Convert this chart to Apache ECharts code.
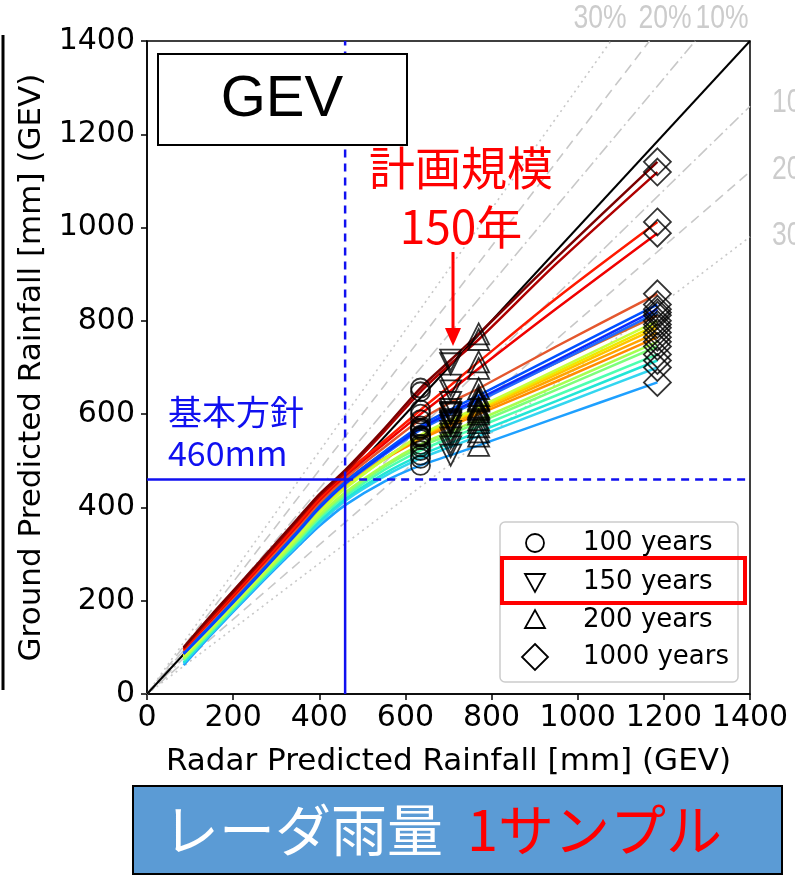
<!DOCTYPE html>
<html>
<head>
<meta charset="utf-8">
<script src="https://cdn.jsdelivr.net/npm/echarts@6/dist/echarts.min.js"></script>
<style>
  html, body { margin: 0; padding: 0; background: #fff; }
  #chart { width: 795px; height: 880px; }
</style>
</head>
<body>
<div id="chart"></div>
<script>
// radar rainfall where each curve is sampled (mm)
const radarX = [85, 150, 250, 350, 400, 460, 550, 635, 705, 770, 950, 1185]

// ground rainfall per sample curve, drawn bottom -> top
const curveColors = [
  '#1ea0ff', '#33d6f0', '#22e6d6', '#4dffb0', '#7dff7a', '#a6ff50',
  '#ff8c00', '#ffa500', '#ffc400', '#f0e800', '#c8ff3c', '#d2642a',
  '#1f6bff', '#0a2cff', '#0050ff', '#e4572e', '#f00000', '#ff1a00',
  '#b00000', '#7a0000'
]
const curveValues = [
  [62, 128, 224, 316, 360, 405, 455, 490, 512, 533, 592, 668],
  [66, 131, 227, 320, 366, 414, 466, 505, 530, 553, 617, 700],
  [68, 132, 229, 323, 370, 418, 472, 512, 538, 562, 628, 715],
  [72, 135, 232, 327, 376, 424, 480, 522, 549, 573, 640, 728],
  [74, 137, 234, 330, 380, 428, 486, 530, 557, 582, 652, 745],
  [76, 139, 236, 333, 383, 432, 490, 535, 563, 588, 660, 755],
  [90, 152, 250, 350, 402, 452, 503, 546, 575, 600, 670, 765],
  [88, 150, 248, 348, 400, 450, 505, 550, 580, 605, 678, 775],
  [84, 146, 244, 342, 394, 445, 504, 552, 583, 609, 685, 785],
  [82, 144, 242, 340, 391, 442, 503, 553, 585, 612, 690, 792],
  [80, 142, 240, 338, 389, 440, 503, 555, 588, 615, 695, 800],
  [92, 155, 252, 352, 405, 456, 517, 570, 602, 630, 710, 812],
  [86, 147, 245, 346, 398, 450, 512, 566, 600, 628, 710, 818],
  [86, 148, 246, 348, 400, 452, 515, 570, 604, 633, 715, 825],
  [88, 150, 248, 350, 403, 455, 519, 575, 610, 640, 725, 835],
  [94, 158, 256, 357, 410, 462, 528, 588, 625, 655, 745, 858],
  [95, 160, 260, 362, 415, 468, 536, 600, 650, 698, 826, 988],
  [96, 163, 264, 366, 419, 472, 542, 609, 662, 712, 848, 1012],
  [98, 166, 268, 372, 424, 475, 562, 648, 708, 760, 922, 1119],
  [100, 170, 272, 376, 428, 480, 568, 656, 716, 772, 935, 1141]
]

// return periods and which radarX point they sit on
const periodNames = ['100 years', '150 years', '200 years', '1000 years']
const periodIdx = [7, 8, 9, 11]

const ratioPct = [10, 20, 30]
const ratioDash = [[12, 4, 2, 4], [10, 6], [2, 4]]
const basicPolicy = 460
const axisMax = 1400

const chart = echarts.init(document.getElementById('chart'))
const FONT = 'DejaVu Sans'
const CJK = 'Noto Sans CJK JP'

const series = []

// +-% reference lines
ratioPct.forEach((p, i) => {
  const r = p / 100
  const style = { color: '#c8c8c8', width: 1.6, type: ratioDash[i] }
  series.push({ type: 'line', silent: true, symbol: 'none', z: 1, lineStyle: style,
    data: [[0, 0], [axisMax / (1 + r), axisMax]] })
  series.push({ type: 'line', silent: true, symbol: 'none', z: 1, lineStyle: style,
    data: [[0, 0], [axisMax, axisMax * (1 - r)]] })
})
series.push({ type: 'line', silent: true, symbol: 'none', z: 2,
  lineStyle: { color: '#000', width: 2 }, data: [[0, 0], [axisMax, axisMax]] })

curveValues.forEach((vals, i) => {
  series.push({
    type: 'line', silent: true, symbol: 'none', smooth: 0.3, z: 3,
    lineStyle: { color: curveColors[i], width: 2.5 },
    data: radarX.map((x, j) => [x, vals[j]])
  })
})

// 基本方針 460mm lines
const blue = '#1010f0'
series.push({ type: 'line', silent: true, symbol: 'none', z: 4, lineStyle: { color: blue, width: 2.5 },
  data: [[basicPolicy, 0], [basicPolicy, basicPolicy]] })
series.push({ type: 'line', silent: true, symbol: 'none', z: 4, lineStyle: { color: blue, width: 2.5, type: [8, 6] },
  data: [[basicPolicy, basicPolicy], [basicPolicy, axisMax]] })
series.push({ type: 'line', silent: true, symbol: 'none', z: 4, lineStyle: { color: blue, width: 2.5 },
  data: [[0, basicPolicy], [basicPolicy, basicPolicy]] })
series.push({ type: 'line', silent: true, symbol: 'none', z: 4, lineStyle: { color: blue, width: 2.5, type: [8, 6] },
  data: [[basicPolicy, basicPolicy], [axisMax, basicPolicy]] })

const markerDefs = [
  { symbol: 'circle', size: 19, rotate: 0 },
  { symbol: 'triangle', size: 21, rotate: 180 },
  { symbol: 'triangle', size: 21, rotate: 0 },
  { symbol: 'diamond', size: 27, rotate: 0 }
]
periodIdx.forEach((idx, k) => {
  series.push({
    type: 'scatter', name: periodNames[k], silent: true, z: 5,
    symbol: markerDefs[k].symbol, symbolSize: markerDefs[k].size, symbolRotate: markerDefs[k].rotate,
    itemStyle: { color: 'rgba(255,255,255,0)', borderColor: '#000', borderWidth: 1.8 },
    data: curveValues.map(v => [radarX[idx], v[idx]])
  })
})

const gray = '#cccccc'
const txt = (text, x, y, size, fill, family, align) => ({
  type: 'text', z: 100, style: { text, x, y, fill, fontSize: size, fontFamily: family || FONT,
    textAlign: align || 'center', textVerticalAlign: 'middle' }
})
// narrow grey percentage labels
const pct = (text, x, y, align) => ({
  type: 'text', z: 100, x, y, scaleX: 0.78,
  style: { text, x: 0, y: 0, fill: gray, fontSize: 34, fontFamily: 'Liberation Sans',
    textAlign: align || 'center', textVerticalAlign: 'middle' }
})

const legendRows = [543, 582, 620, 657]
const graphic = [
  { type: 'line', z: 100, shape: { x1: 3, y1: 35, x2: 3, y2: 690 }, style: { stroke: '#000', lineWidth: 3 } },
  { type: 'rect', z: 100, shape: { x: 158, y: 54, width: 249, height: 91 }, style: { fill: '#fff', stroke: '#000', lineWidth: 2 } },
  txt('GEV', 282, 100, 58, '#000', 'Liberation Sans'),
  txt('計画規模', 461, 168, 46, '#ff0000', CJK),
  txt('150年', 461, 227, 46, '#ff0000', CJK),
  { type: 'line', z: 100, shape: { x1: 453, y1: 252, x2: 453, y2: 332 }, style: { stroke: '#ff0000', lineWidth: 3 } },
  { type: 'polygon', z: 100, shape: { points: [[445, 328], [461, 328], [453, 346]] }, style: { fill: '#ff0000' } },
  txt('基本方針', 168, 412, 34, blue, CJK, 'left'),
  txt('460mm', 168, 453, 34, blue, CJK, 'left'),
  pct('30%', 600, 19),
  pct('20%', 665, 19),
  pct('10%', 722, 19),
  pct('10%', 772, 103, 'left'),
  pct('20%', 772, 170, 'left'),
  pct('30%', 772, 236, 'left'),
  // legend
  { type: 'rect', z: 100, shape: { x: 500, y: 522, width: 238, height: 160, r: 5 }, style: { fill: '#fff', stroke: '#cccccc', lineWidth: 1.5 } },
  { type: 'circle', z: 101, shape: { cx: 535, cy: legendRows[0], r: 9 }, style: { fill: 'none', stroke: '#000', lineWidth: 1.8 } },
  { type: 'polygon', z: 101, shape: { points: [[525, legendRows[1] - 8], [545, legendRows[1] - 8], [535, legendRows[1] + 10]] }, style: { fill: 'none', stroke: '#000', lineWidth: 1.8 } },
  { type: 'polygon', z: 101, shape: { points: [[525, legendRows[2] + 8], [545, legendRows[2] + 8], [535, legendRows[2] - 10]] }, style: { fill: 'none', stroke: '#000', lineWidth: 1.8 } },
  { type: 'polygon', z: 101, shape: { points: [[535, legendRows[3] - 13], [548, legendRows[3]], [535, legendRows[3] + 13], [522, legendRows[3]]] }, style: { fill: 'none', stroke: '#000', lineWidth: 1.8 } },
  ...periodNames.map((n, k) => txt(n, 583, legendRows[k], 26, '#000', FONT, 'left')),
  { type: 'rect', z: 102, shape: { x: 502, y: 558, width: 243, height: 45 }, style: { fill: 'none', stroke: '#ff0000', lineWidth: 4 } },
  // bottom caption
  { type: 'rect', z: 100, shape: { x: 133, y: 786, width: 649, height: 88 }, style: { fill: '#5b9bd5', stroke: '#000', lineWidth: 2 } },
  txt('レーダ雨量', 163, 830, 56, '#fff', CJK, 'left'),
  txt('1サンプル', 467, 830, 56, '#ff0000', CJK, 'left')
]

const axisCommon = {
  type: 'value', min: 0, max: axisMax, interval: 200,
  axisLine: { show: true, lineStyle: { color: '#000', width: 1.5 } },
  axisTick: { show: true, inside: false, length: 6, lineStyle: { color: '#000', width: 1.5 } },
  splitLine: { show: false },
  nameLocation: 'middle',
  nameTextStyle: { fontSize: 31, fontFamily: FONT, color: '#000' }
}
const plain = v => String(v)

chart.setOption({
  animation: false,
  backgroundColor: '#fff',
  grid: { left: 147, right: 45, top: 41, bottom: 186, show: true, borderColor: '#000', borderWidth: 1.5 },
  xAxis: Object.assign({}, axisCommon, {
    name: 'Radar Predicted Rainfall [mm] (GEV)', nameGap: 52,
    axisLabel: { fontSize: 30, fontFamily: FONT, color: '#000', margin: 9, formatter: plain }
  }),
  yAxis: Object.assign({}, axisCommon, {
    name: 'Ground Predicted Rainfall [mm] (GEV)', nameGap: 100,
    axisLabel: { fontSize: 30, fontFamily: FONT, color: '#000', margin: 12, formatter: plain }
  }),
  series,
  graphic
})
</script>
</body>
</html>
